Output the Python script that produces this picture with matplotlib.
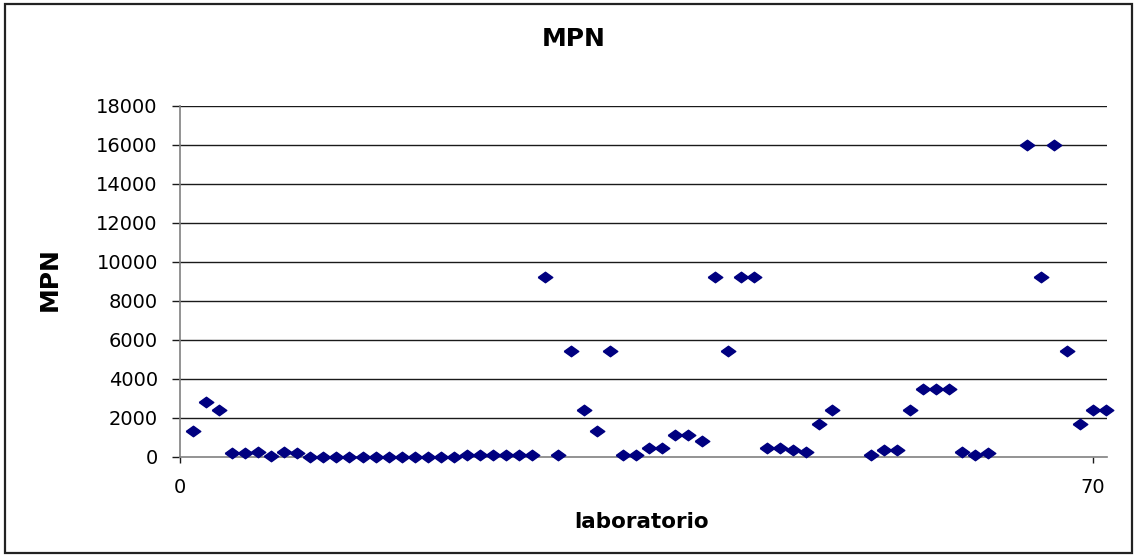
# MPN results per laboratory, scatter of one value per lab

import matplotlib
matplotlib.use("agg")
import matplotlib.pyplot as plt
from matplotlib.patches import Rectangle

laboratorio = [1, 2, 3, 4, 5, 6, 7, 8, 9, 10,
               11, 12, 13, 14, 15, 16, 17, 18, 19, 20,
               21, 22, 23, 24, 25, 26, 27, 28, 29, 30,
               31, 32, 33, 34, 35, 36, 37, 38, 39, 40,
               41, 42, 43, 44, 45, 46, 47, 48, 49, 50,
               53, 54, 55, 56, 57, 58, 59, 60,
               61, 62, 65, 66, 67, 68, 69, 70, 71]
mpn = [1300, 2800, 2400, 170, 170, 240, 50, 240, 170, 0,
       0, 0, 0, 0, 0, 0, 0, 0, 0, 0,
       0, 110, 110, 110, 110, 110, 110, 9200, 90, 5400,
       2400, 1300, 5400, 70, 70, 460, 460, 1100, 1100, 800,
       9200, 5400, 9200, 9200, 460, 460, 350, 240, 1700, 2400,
       70, 350, 350, 2400, 3500, 3500, 3500, 240,
       70, 170, 16000, 9200, 16000, 5400, 1700, 2400, 2400]

y_ticks = list(range(0, 18001, 2000))
x_ticks = [0, 70]

fig = plt.figure(figsize=(11.36, 5.56), dpi=100)
ax = fig.add_axes([180 / 1136, 99.3 / 556, 927 / 1136, 350.7 / 556])

# outer chart frame
fig.patches.append(Rectangle((5 / 1136, 3 / 556), 1127 / 1136, 549 / 556,
                             transform=fig.transFigure, fill=False,
                             edgecolor="#222222", linewidth=1.6))

ax.set_xlim(0, 71.1)
ax.set_ylim(0, 18000)
ax.set_yticks(y_ticks)
ax.set_xticks(x_ticks)

for y in y_ticks[1:]:
    ax.axhline(y, color="#1a1a1a", linewidth=1.0, zorder=1)

# wide flat diamond marker
diamond = [(-1, 0), (0, 0.72), (1, 0), (0, -0.72), (-1, 0)]
ax.plot(laboratorio, mpn, linestyle="none", marker=diamond, markersize=10.5,
        color="#000080", clip_on=False, zorder=4)

for side in ["top", "right"]:
    ax.spines[side].set_visible(False)
for side in ["left", "bottom"]:
    ax.spines[side].set_color("#808080")
    ax.spines[side].set_linewidth(1.2)

ax.tick_params(axis="y", direction="out", length=6, width=1, color="#1a1a1a",
               pad=10, labelsize=14)
ax.tick_params(axis="x", direction="out", length=4.5, width=1, color="#1a1a1a",
               pad=11, labelsize=14)

fig.text(574 / 1136, 1 - 39 / 556, "MPN", fontsize=18, fontweight="bold",
         ha="center", va="center")
fig.text(50 / 1136, 1 - 279 / 556, "MPN", fontsize=18, fontweight="bold",
         ha="center", va="center", rotation=90)
fig.text(642 / 1136, 1 - 522 / 556, "laboratorio", fontsize=15.5,
         fontweight="bold", ha="center", va="center")

fig.savefig("out.png", dpi=100)
